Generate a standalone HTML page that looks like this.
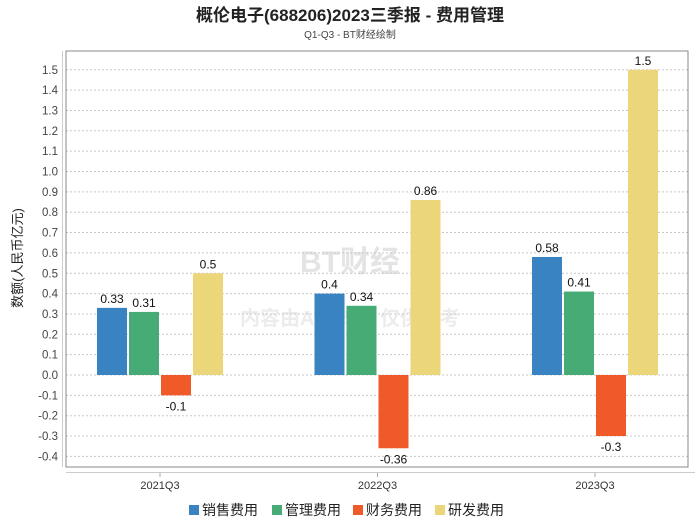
<!DOCTYPE html>
<html><head><meta charset="utf-8"><style>
body{margin:0;background:#fff;width:700px;height:524px;overflow:hidden;font-family:"Liberation Sans","Noto Sans CJK SC",sans-serif}
</style></head><body>
<svg id="c" width="700" height="524" xmlns="http://www.w3.org/2000/svg" font-family="Liberation Sans, Noto Sans CJK SC, sans-serif">
<text x="350" y="21" text-anchor="middle" font-size="17" font-weight="bold" fill="#222">概伦电子(688206)2023三季报 - 费用管理</text>
<text x="350" y="38" text-anchor="middle" font-size="10" fill="#444">Q1-Q3 - BT财经绘制</text>
<text transform="translate(22,258) rotate(-90)" text-anchor="middle" font-size="13" fill="#222">数额(人民币亿元)</text>
<text x="350" y="272" text-anchor="middle" font-size="30" font-weight="bold" fill="#e4e4e4">BT财经</text>
<text x="350" y="325" text-anchor="middle" font-size="20" font-weight="bold" fill="#ececec">内容由AI生成，仅供参考</text>
<g id="grid"></g>
<g id="bars"></g>
<rect x="66" y="51" width="622" height="416" fill="none" stroke="#888" stroke-width="1"/>
<line x1="62.5" y1="51" x2="62.5" y2="467" stroke="#ccc"/>
<line x1="66" y1="472.5" x2="695" y2="472.5" stroke="#ccc"/>
<g id="legend"></g>
</svg>
<script>
const categories=["2021Q3","2022Q3","2023Q3"];
const seriesNames=["销售费用","管理费用","财务费用","研发费用"];
const colors=["#3a83c3","#46ab74","#f05a28","#ecd67a"];
const sales=[0.33,0.4,0.58];
const admin=[0.31,0.34,0.41];
const finance=[-0.1,-0.36,-0.3];
const rnd=[0.5,0.86,1.5];
const yTicks=[-0.4,-0.3,-0.2,-0.1,0,0.1,0.2,0.3,0.4,0.5,0.6,0.7,0.8,0.9,1.0,1.1,1.2,1.3,1.4,1.5];
const series=[sales,admin,finance,rnd];
const NS="http://www.w3.org/2000/svg";
const y=v=>375-v*203.5;
const xc=i=>160+i*217.5;
function mk(t,a,p){const e=document.createElementNS(NS,t);for(const k in a)e.setAttribute(k,a[k]);p.appendChild(e);return e;}
const g=document.getElementById('grid');
yTicks.forEach(v=>{
 const l=mk('line',{x1:66,x2:688,y1:y(v),y2:y(v),stroke:'#c8c8c8','stroke-dasharray':'2,2'},g);
 
 
 const t=mk('text',{x:58,y:y(v)+4,'text-anchor':'end','font-size':11.5,fill:'#444'},g);
 t.textContent=v.toFixed(1);
 
 
});
categories.forEach((c,i)=>{
 mk('line',{x1:xc(i),x2:xc(i),y1:472,y2:477,stroke:'#aaa'},g);
 const t=mk('text',{x:xc(i),y:489,'text-anchor':'middle','font-size':11,fill:'#333'},g);
 t.textContent=c;
 
 
});
const b=document.getElementById('bars');
series.forEach((s,j)=>{
 s.forEach((v,i)=>{
  const x=xc(i)-63+j*32;
  const r=mk('rect',{x:x,y:Math.min(y(v),y(0)),width:30,height:Math.abs(y(v)-y(0)),fill:colors[j]},b);
  
  
  const ty=v>=0?y(v)-5:y(v)+15;
  const t=mk('text',{x:x+15,y:ty,'text-anchor':'middle','font-size':12,fill:'#111'},b);
  t.textContent=String(v);
  
  
 });
});
const lg=document.getElementById('legend');
const lx=[189,272,353,435];
seriesNames.forEach((n,j)=>{
 const r=mk('rect',{x:lx[j],y:505,width:10,height:10,fill:colors[j]},lg);
 
 
 const t=mk('text',{x:lx[j]+13,y:515,'font-size':14,fill:'#222'},lg);
 t.textContent=n;
 
 
});
</script>
</body></html>
